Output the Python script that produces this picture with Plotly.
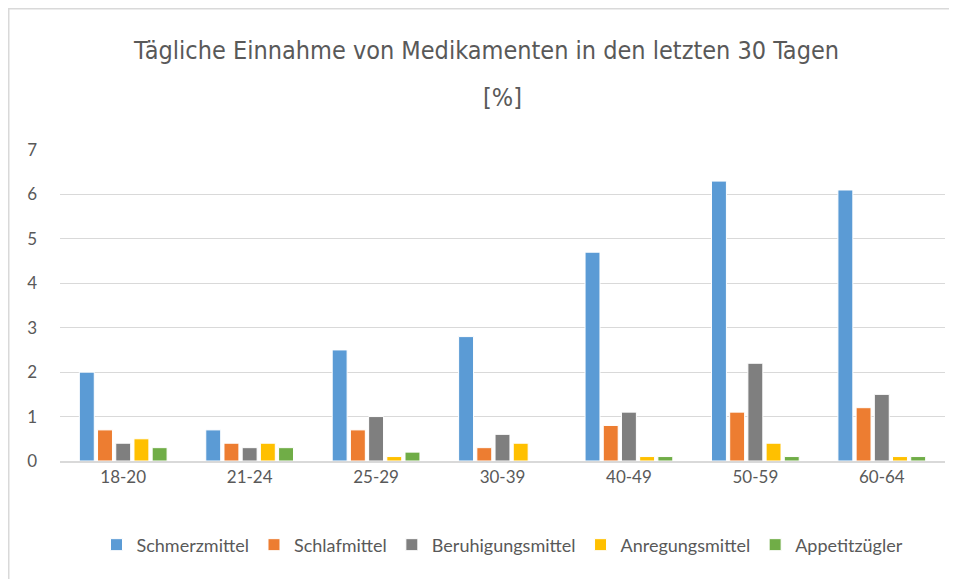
import plotly.graph_objects as go

categories = ["18-20", "21-24", "25-29", "30-39", "40-49", "50-59", "60-64"]
schmerzmittel = [2.0, 0.7, 2.5, 2.8, 4.7, 6.3, 6.1]
schlafmittel = [0.7, 0.4, 0.7, 0.3, 0.8, 1.1, 1.2]
beruhigungsmittel = [0.4, 0.3, 1.0, 0.6, 1.1, 2.2, 1.5]
anregungsmittel = [0.5, 0.4, 0.1, 0.4, 0.1, 0.4, 0.1]
appetitzuegler = [0.3, 0.3, 0.2, 0.0, 0.1, 0.1, 0.1]

series = [
    ("Schmerzmittel", schmerzmittel, "#5B9BD5"),
    ("Schlafmittel", schlafmittel, "#ED7D31"),
    ("Beruhigungsmittel", beruhigungsmittel, "#7F7F7F"),
    ("Anregungsmittel", anregungsmittel, "#FFC000"),
    ("Appetitzügler", appetitzuegler, "#70AD47"),
]

title_font = dict(family="DejaVu Sans Condensed, sans-serif", size=25, color="#595959")

fig = go.Figure()
for name, vals, col in series:
    fig.add_trace(go.Bar(x=categories, y=vals, name=name,
                         marker=dict(color=col, line=dict(color="white", width=1))))

fig.update_layout(
    width=957, height=579,
    paper_bgcolor="white", plot_bgcolor="white",
    barmode="group", bargap=0.28, bargroupgap=0.18,
    margin=dict(l=52, r=20, t=142, b=126),
    title=dict(text="Tägliche Einnahme von Medikamenten in den letzten 30 Tagen",
               x=0.5, xanchor="center", y=0.927, yanchor="middle", font=title_font),
    annotations=[dict(text="[%]", xref="paper", yref="paper", x=0.5, y=1.170,
                      xanchor="center", yanchor="middle", showarrow=False, font=title_font)],
    font=dict(family="Lato, sans-serif", size=17, color="#595959"),
    legend=dict(orientation="h", x=0.5, xanchor="center", y=-0.27, yanchor="middle",
                font=dict(family="Lato, sans-serif", size=18, color="#595959"),
                itemwidth=30, traceorder="normal"),
    xaxis=dict(showgrid=False, showline=True, linecolor="#D9D9D9", linewidth=2,
               ticks="", tickfont=dict(size=17, color="#595959")),
    yaxis=dict(range=[0, 7], dtick=1, showgrid=True, gridcolor="#D9D9D9", gridwidth=1,
               zeroline=False, showline=False, ticks="", ticklabelstandoff=22,
               tickfont=dict(size=17, color="#595959")),
    shapes=[dict(type="rect", xref="paper", yref="paper", x0=-0.0582, x1=1.2, y0=-0.6, y1=1.455,
                 line=dict(color="#D9D9D9", width=2))],
)

fig.write_html("out.html")
